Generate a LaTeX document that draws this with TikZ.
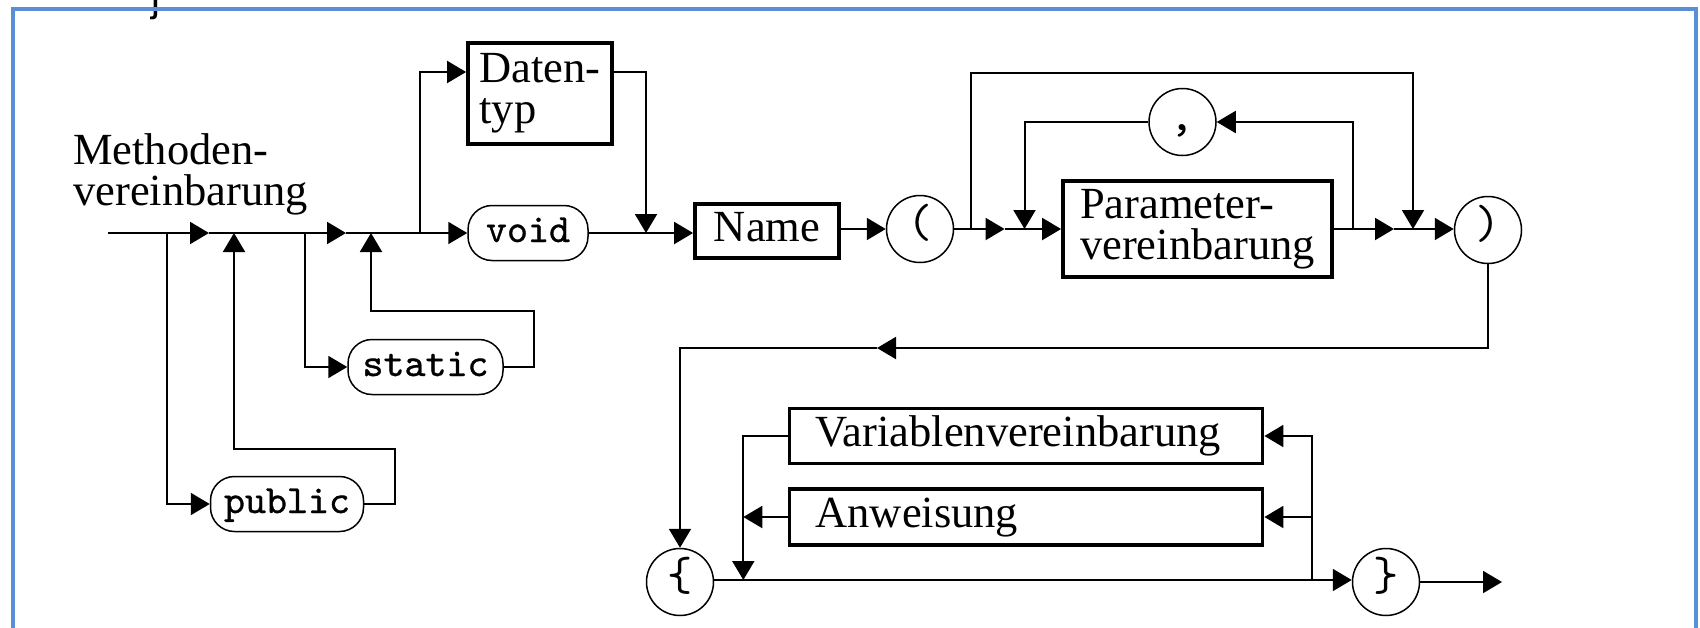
\documentclass[tikz,border=0pt]{standalone}
\usepackage{fontspec}
\setmainfont{Liberation Serif}
\newfontfamily\fragfont{Liberation Sans}
\newfontfamily\kwfont{lmmono10-regular.otf}[FakeBold=0.8]
\newfontfamily\pcfont{lmmono10-regular.otf}
\usetikzlibrary{arrows.meta}
\definecolor{framecol}{RGB}{90,142,214}

\begin{document}
\begin{tikzpicture}[x=1pt,y=-1pt,
  line/.style={line width=2pt},
  arr/.style={line width=2pt, -{Triangle[length=19pt,width=22pt]}},
  titletext/.style={inner sep=0pt, align=left, font=\fontsize{44.5}{41}\selectfont},
  nonterm/.style={draw, line width=3.8pt, inner sep=0pt, align=left,
    font=\fontsize{44.5}{41}\selectfont},
  oneline/.style={text height=30pt, text depth=10pt},
  term/.style={draw, line width=1.5pt, rounded corners=24pt, inner sep=0pt,
    minimum height=55pt, text height=24pt, text depth=6pt,
    font=\kwfont\fontsize{40}{40}\selectfont},
  punct/.style={draw, circle, line width=1.5pt, inner sep=0pt, minimum size=67pt,
    text height=26pt, text depth=10pt, font=\pcfont\fontsize{48}{48}\selectfont},
  frame/.style={draw=framecol, line width=4pt}
]
\useasboundingbox (0,0) rectangle (1700,627);
\clip (0,0) rectangle (1700,627);

% descender of a line of text cut off above the frame
\node[inner sep=0pt, anchor=base, font=\fragfont\fontsize{40}{40}\selectfont] (frag) at (156,11) {j};

% ---------------- nodes ----------------
\node[titletext, anchor=west] (title) at (73,174.5) {Methoden-\\vereinbarung};

\node[nonterm, minimum width=144pt, minimum height=101pt] (datentyp) at (540,93.5) {Daten-\\typ};
\node[term, minimum width=120pt] (void) at (528,233) {void};
\node[term, minimum width=155pt] (static) at (425.5,367) {static};
\node[term, minimum width=153pt] (public) at (287,504) {public};
\node[nonterm, oneline, minimum width=144pt, minimum height=54pt] (name) at (767,231) {Name};
\node[punct] (lpar) at (920,229) {(};
\node[punct] (comma) at (1182.5,122) {,};
\node[nonterm, minimum width=269pt, minimum height=96pt] (param) at (1197.5,229) {Parameter-\\vereinbarung};
\node[punct] (rpar) at (1488,230) {)};
\node[nonterm, oneline, text width=421pt, inner xsep=26pt, minimum height=55pt] (varv) at (1026,436) {Variablenvereinbarung};
\node[nonterm, oneline, text width=421pt, inner xsep=26pt, minimum height=56pt] (anw) at (1026,517) {Anweisung};
\node[punct] (lbrace) at (680,582) {\{};
\node[punct] (rbrace) at (1386,582) {\}};

% ---------------- junctions ----------------
\coordinate (start) at (108,233);
\coordinate (j1) at (167,233);
\coordinate (a1) at (209,233);
\coordinate (r1) at (234,233);
\coordinate (j2) at (305,233);
\coordinate (a2) at (346,233);
\coordinate (r2) at (371,233);
\coordinate (j3) at (420,233);
\coordinate (r3) at (646,233);
\coordinate (dty) at (420,72);
\coordinate (pubturn) at (395,449);
\coordinate (statturn) at (534,311);

\coordinate (j4) at (971,229);
\coordinate (a4) at (1004.6,229);
\coordinate (r4) at (1024.5,229);
\coordinate (j5) at (1352.6,229);
\coordinate (a5) at (1394,229);
\coordinate (r5) at (1413,229);
\coordinate (toploop) at (971,73);

\coordinate (a6) at (877,348);
\coordinate (bl) at (714,580);
\coordinate (j6) at (743.3,580);
\coordinate (j7) at (1311.6,580);
\coordinate (endp) at (1502,582);

% ---------------- connectors ----------------
% modifiers public / static
\draw[arr] (start) -- (a1);
\draw[arr] (a1) -- (a2);
\draw[arr] (a2) -- (void.west |- a2);
\draw[arr] (j1) |- (public.west);
\draw[arr] (public.east) -| (pubturn) -| (r1);
\draw[arr] (j2) |- (static.west);
\draw[arr] (static.east) -| (statturn) -| (r2);

% result type
\draw[arr] (j3) |- (datentyp.west |- dty);
\draw[arr] (datentyp.east |- dty) -| (r3);
\draw[arr] (void.east |- r3) -- (name.west |- r3);

% parameter list
\draw[arr] (name.east |- lpar) -- (lpar.west);
\draw[arr] (lpar.east) -- (a4);
\draw[arr] (a4) -- (param.west);
\draw[arr] (j4) -- (toploop) -| (r5);
\draw[arr] (j5) |- (comma.east);
\draw[arr] (comma.west) -| (r4);
\draw[arr] (param.east) -- (a5);
\draw[arr] (a5) -- (rpar.west |- a5);

% method body
\draw[arr] (rpar.south) |- (a6);
\draw[arr] (a6) -| (lbrace.north);
\draw[arr] (lbrace.east |- bl) -- (rbrace.west |- bl);
\draw[arr] (j7) |- (varv.east);
\draw[arr] (j7 |- anw.east) -- (anw.east);
\draw[arr] (varv.west) -| (j6);
\draw[arr] (anw.west) -- (j6 |- anw.west);
\draw[arr] (rbrace.east) -- (endp);

% frame
\draw[frame] (12.5,700) -- (12.5,8.5) -- (1696,8.5) -- (1696,700);
\end{tikzpicture}
\end{document}
